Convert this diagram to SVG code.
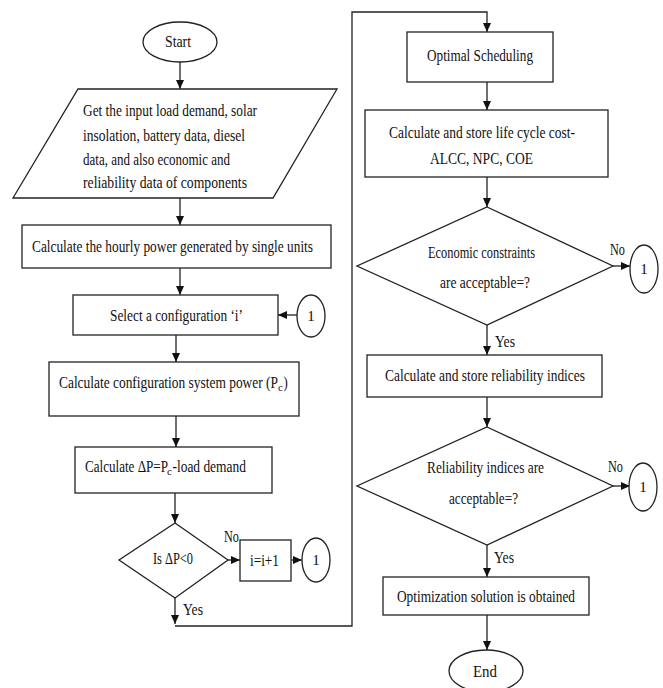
<svg xmlns="http://www.w3.org/2000/svg" width="663" height="688" viewBox="0 0 663 688">
<style>
.s{fill:#fff;stroke:#222;stroke-width:1.3}
.c{fill:none;stroke:#222;stroke-width:1.3}
text{font-family:"Liberation Serif","Times New Roman",serif;font-size:17px;fill:#111}
.sm{font-size:15px}
.sub{font-size:11px}
</style>
<defs>
<marker id="a" markerUnits="userSpaceOnUse" markerWidth="10" markerHeight="10" refX="9" refY="4" orient="auto">
<path d="M0,0 L9,4 L0,8 z" fill="#111"/>
</marker>
</defs>
<rect width="663" height="688" fill="#fff"/>
<g id="connectors">
<line class="c" x1="180" y1="62" x2="180" y2="89" marker-end="url(#a)"/>
<line class="c" x1="180" y1="198" x2="180" y2="225" marker-end="url(#a)"/>
<line class="c" x1="180" y1="268" x2="180" y2="295" marker-end="url(#a)"/>
<line class="c" x1="297" y1="315" x2="278" y2="315" marker-end="url(#a)"/>
<line class="c" x1="176" y1="335" x2="176" y2="362" marker-end="url(#a)"/>
<line class="c" x1="176" y1="416" x2="176" y2="447" marker-end="url(#a)"/>
<line class="c" x1="175" y1="493" x2="175" y2="523" marker-end="url(#a)"/>
<line class="c" x1="228" y1="560" x2="240" y2="560" marker-end="url(#a)"/>
<line class="c" x1="291" y1="560" x2="302" y2="560" marker-end="url(#a)"/>
<line class="c" x1="175" y1="598" x2="175" y2="624" marker-end="url(#a)"/>
<polyline class="c" points="175,626 352,626 352,12 487,12 487,32" marker-end="url(#a)"/>
<line class="c" x1="487" y1="82" x2="487" y2="110" marker-end="url(#a)"/>
<line class="c" x1="487" y1="177" x2="487" y2="207" marker-end="url(#a)"/>
<line class="c" x1="613" y1="266" x2="630" y2="266" marker-end="url(#a)"/>
<line class="c" x1="487" y1="325" x2="487" y2="355" marker-end="url(#a)"/>
<line class="c" x1="487" y1="397" x2="487" y2="427" marker-end="url(#a)"/>
<line class="c" x1="613" y1="486" x2="630" y2="486" marker-end="url(#a)"/>
<line class="c" x1="487" y1="545" x2="487" y2="577" marker-end="url(#a)"/>
<line class="c" x1="487" y1="615" x2="487" y2="650" marker-end="url(#a)"/>
</g>
<g id="start">
<ellipse class="s" cx="180" cy="42" rx="37" ry="20"/>
<text x="165" y="47" textLength="26" lengthAdjust="spacingAndGlyphs">Start</text>
</g>
<g id="input">
<polygon class="s" points="78,89 337,89 273,198 13,198"/>
<text x="83" y="116" textLength="174" lengthAdjust="spacingAndGlyphs">Get the input load demand, solar</text>
<text x="83" y="141" textLength="162" lengthAdjust="spacingAndGlyphs">insolation, battery data, diesel</text>
<text x="83" y="165" textLength="147" lengthAdjust="spacingAndGlyphs">data, and also economic and</text>
<text x="83" y="188" textLength="164" lengthAdjust="spacingAndGlyphs">reliability data of components</text>
</g>
<g id="hourly">
<rect class="s" x="22" y="225" width="309" height="43"/>
<text x="32" y="252" textLength="281" lengthAdjust="spacingAndGlyphs">Calculate the hourly power generated by single units</text>
</g>
<g id="select">
<rect class="s" x="73" y="295" width="205" height="40"/>
<text x="110" y="321" textLength="133" lengthAdjust="spacingAndGlyphs">Select a configuration ‘i’</text>
</g>
<g id="conn1a">
<ellipse class="s" cx="311" cy="316" rx="14" ry="21"/>
<text class="sm" x="311" y="321" text-anchor="middle">1</text>
</g>
<g id="syspower">
<rect class="s" x="49" y="362" width="250" height="54"/>
<text transform="translate(59,388) scale(0.79,1)">Calculate configuration system power (P</text>
<text class="sub" x="278" y="391">c</text>
<text transform="translate(283.5,388) scale(0.75,1)">)</text>
</g>
<g id="deltap">
<rect class="s" x="75" y="447" width="197" height="46"/>
<text transform="translate(85,472) scale(0.77,1)">Calculate ΔP=P</text>
<text class="sub" x="167" y="475">c</text>
<text transform="translate(172.5,472) scale(0.79,1)">-load demand</text>
</g>
<g id="dec1">
<polygon class="s" points="175,523 228,560 175,598 119,560"/>
<text x="153" y="564" textLength="40" lengthAdjust="spacingAndGlyphs">Is ΔP&lt;0</text>
<text x="224" y="542" textLength="15" lengthAdjust="spacingAndGlyphs">No</text>
<text x="183" y="615" textLength="20" lengthAdjust="spacingAndGlyphs">Yes</text>
</g>
<g id="incr">
<rect class="s" x="240" y="540" width="51" height="41"/>
<text x="250" y="566" textLength="29" lengthAdjust="spacingAndGlyphs">i=i+1</text>
</g>
<g id="conn1b">
<ellipse class="s" cx="316" cy="560" rx="14" ry="22"/>
<text class="sm" x="316" y="565" text-anchor="middle">1</text>
</g>
<g id="sched">
<rect class="s" x="407" y="32" width="146" height="50"/>
<text x="427" y="61" textLength="106" lengthAdjust="spacingAndGlyphs">Optimal Scheduling</text>
</g>
<g id="lcc">
<rect class="s" x="365" y="110" width="243" height="67"/>
<text x="389" y="138" textLength="186" lengthAdjust="spacingAndGlyphs">Calculate and store life cycle cost-</text>
<text x="430" y="164" textLength="103" lengthAdjust="spacingAndGlyphs">ALCC, NPC, COE</text>
</g>
<g id="econ">
<polygon class="s" points="487,207 613,266 487,325 357,266"/>
<text x="428" y="258" textLength="107" lengthAdjust="spacingAndGlyphs">Economic constraints</text>
<text x="440" y="288" textLength="90" lengthAdjust="spacingAndGlyphs">are acceptable=?</text>
<text x="610" y="255" textLength="15" lengthAdjust="spacingAndGlyphs">No</text>
<text x="495" y="347" textLength="20" lengthAdjust="spacingAndGlyphs">Yes</text>
</g>
<g id="conn1c">
<ellipse class="s" cx="644" cy="269" rx="14" ry="24"/>
<text class="sm" x="644" y="274" text-anchor="middle">1</text>
</g>
<g id="relstore">
<rect class="s" x="367" y="355" width="235" height="42"/>
<text x="385" y="381" textLength="200" lengthAdjust="spacingAndGlyphs">Calculate and store reliability indices</text>
</g>
<g id="rel">
<polygon class="s" points="487,427 613,486 487,545 357,486"/>
<text x="427" y="473" textLength="117" lengthAdjust="spacingAndGlyphs">Reliability indices are</text>
<text x="449" y="504" textLength="69" lengthAdjust="spacingAndGlyphs">acceptable=?</text>
<text x="608" y="472" textLength="15" lengthAdjust="spacingAndGlyphs">No</text>
<text x="494" y="563" textLength="20" lengthAdjust="spacingAndGlyphs">Yes</text>
</g>
<g id="conn1d">
<ellipse class="s" cx="643" cy="487" rx="14" ry="24"/>
<text class="sm" x="643" y="492" text-anchor="middle">1</text>
</g>
<g id="optim">
<rect class="s" x="383" y="577" width="206" height="38"/>
<text x="397" y="602" textLength="178" lengthAdjust="spacingAndGlyphs">Optimization solution is obtained</text>
</g>
<g id="end">
<ellipse class="s" cx="486" cy="671" rx="37" ry="21"/>
<text x="473" y="677" textLength="24" lengthAdjust="spacingAndGlyphs">End</text>
</g>
</svg>
